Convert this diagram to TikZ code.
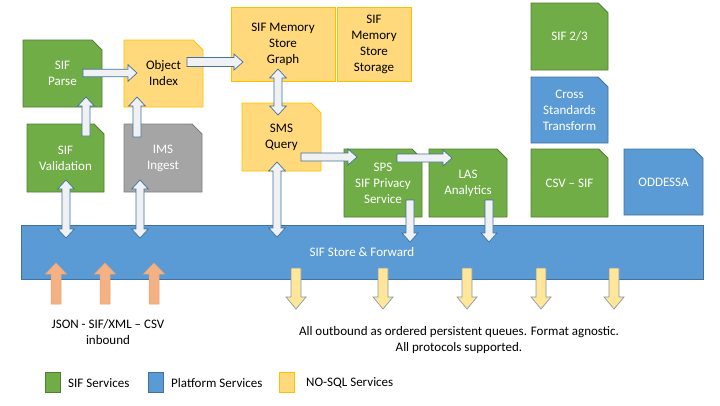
\documentclass[tikz,border=0pt]{standalone}
\usepackage{fontspec}
\setmainfont{Carlito}
\usetikzlibrary{shapes.misc,calc}
\definecolor{gfill}{HTML}{70AD47}
\definecolor{gline}{HTML}{507E32}
\definecolor{bfill}{HTML}{5B9BD5}
\definecolor{bline}{HTML}{41719C}
\definecolor{ofill}{HTML}{FFD97C}
\definecolor{oline}{HTML}{FFC000}
\definecolor{grfill}{HTML}{A5A5A5}
\definecolor{grline}{HTML}{7F7F7F}
\definecolor{wfill}{HTML}{F0F1F4}
\definecolor{upfill}{HTML}{F4B183}
\definecolor{upline}{HTML}{E3A478}
\definecolor{dnfill}{HTML}{FFE699}
\definecolor{dnline}{HTML}{8497B0}
\newcommand\blkarrow[6]{%
  \coordinate (tmpN) at ($(#3)!#6!(#2)$);
  \draw[#1] ($(#2)!#4!90:(#3)$) -- ($(tmpN)!#4!90:(#3)$) -- ($(tmpN)!#5!90:(#3)$) -- (#3)
    -- ($(tmpN)!#5!-90:(#3)$) -- ($(tmpN)!#4!-90:(#3)$) -- ($(#2)!#4!-90:(#3)$) -- cycle;}
\newcommand\dblarrow[6]{%
  \coordinate (tmpA) at ($(#2)!#6!(#3)$);
  \coordinate (tmpB) at ($(#3)!#6!(#2)$);
  \draw[#1] (#2) -- ($(tmpA)!#5!90:(#3)$) -- ($(tmpA)!#4!90:(#3)$) -- ($(tmpB)!#4!90:(#3)$)
    -- ($(tmpB)!#5!90:(#3)$) -- (#3) -- ($(tmpB)!#5!-90:(#3)$) -- ($(tmpB)!#4!-90:(#3)$)
    -- ($(tmpA)!#4!-90:(#3)$) -- ($(tmpA)!#5!-90:(#3)$) -- cycle;}
\tikzset{
  base/.style={font=\fontsize{13}{16}\selectfont, align=center, inner sep=0pt, line width=0.8pt},
  doc/.style={base, chamfered rectangle, chamfered rectangle corners=north east,
     chamfered rectangle sep=5pt},
  sifbox/.style={doc, fill=gfill, draw=gline, text=white},
  platbox/.style={doc, fill=bfill, draw=bline, text=white},
  nosqlbox/.style={doc, fill=ofill, draw=oline, text=black},
  graybox/.style={doc, fill=grfill, draw=grline, text=white},
  memrect/.style={base, rectangle, fill=ofill, draw=oline, text=black},
  legsq/.style={chamfered rectangle, chamfered rectangle corners=north east,
     chamfered rectangle sep=2.5pt, inner sep=0pt, minimum width=15pt, minimum height=20pt, line width=0.8pt},
  lbl/.style={font=\fontsize{13}{16}\selectfont, align=center, inner sep=0pt, text=black},
  warrow/.style={fill=wfill, draw=bline, line width=0.7pt},
  uparrow/.style={fill=upfill, draw=upline, line width=0.5pt},
  dnarrow/.style={fill=dnfill, draw=dnline, line width=0.7pt}
}
\begin{document}
\begin{tikzpicture}[x=1pt,y=-1pt]
\useasboundingbox (0,0) rectangle (720,405);
% boxes
\node[sifbox, minimum width=79pt, minimum height=67pt] (parse) at (62.5,73.5) {SIF\\Parse};
\node[nosqlbox, minimum width=79pt, minimum height=67pt] (objidx) at (163.5,73.5) {Object\\Index};
\node[sifbox, minimum width=77pt, minimum height=68pt] (valid) at (65.5,158) {SIF\\Validation};
\node[graybox, minimum width=78pt, minimum height=68pt] (ims) at (163,158) {IMS\\Ingest};
\node[memrect, minimum width=104pt, minimum height=74pt] (graph) at (283,44) {SIF Memory\\Store\\Graph};
\node[memrect, minimum width=74pt, minimum height=74pt] (storage) at (374,44) {SIF\\Memory\\Store\\Storage};
\node[nosqlbox, minimum width=79pt, minimum height=68pt] (sms) at (281.5,137) {SMS\\Query};
\node[sifbox, minimum width=78pt, minimum height=68pt] (sps) at (383,183) {SPS\\SIF Privacy\\Service};
\node[sifbox, minimum width=78pt, minimum height=68pt] (las) at (468,183) {LAS\\Analytics};
\node[sifbox, minimum width=77pt, minimum height=67pt] (sif23) at (569.5,36.5) {SIF 2/3};
\node[platbox, minimum width=77pt, minimum height=66pt] (cross) at (569.5,110) {Cross\\Standards\\Transform};
\node[sifbox, minimum width=77pt, minimum height=68pt] (csv) at (569.5,183) {CSV – SIF};
\node[platbox, minimum width=79pt, minimum height=66pt] (oddessa) at (663.5,182) {ODDESSA};
\node[base, rectangle, fill=bfill, draw=bline, text=white, minimum width=682pt, minimum height=54pt] (bar) at (362,252) {SIF Store \& Forward};
% white arrow end points
\coordinate (a1s) at (83,73);   \coordinate (a1e) at (137,73);
\coordinate (a2s) at (187,62);  \coordinate (a2e) at (243,62);
\coordinate (a3s) at (86,136);  \coordinate (a3e) at (86,97);
\coordinate (a4s) at (137,137); \coordinate (a4e) at (137,97);
\coordinate (a5s) at (278,69);  \coordinate (a5e) at (278,115);
\coordinate (a6s) at (301,157); \coordinate (a6e) at (357,157);
\coordinate (a7s) at (397,158); \coordinate (a7e) at (452,158);
\coordinate (a8s) at (277,162); \coordinate (a8e) at (277,237);
\coordinate (a9s) at (66,180);  \coordinate (a9e) at (66,238);
\coordinate (a10s) at (140,180); \coordinate (a10e) at (140,238);
\coordinate (a11s) at (410,200); \coordinate (a11e) at (410,242);
\coordinate (a12s) at (489,200); \coordinate (a12e) at (489,242);
\blkarrow{warrow}{a1s}{a1e}{3.8pt}{8.3pt}{9pt}
\blkarrow{warrow}{a2s}{a2e}{4.5pt}{8pt}{9pt}
\blkarrow{warrow}{a3s}{a3e}{4pt}{8.3pt}{9pt}
\blkarrow{warrow}{a4s}{a4e}{4pt}{8.3pt}{9pt}
\dblarrow{warrow}{a5s}{a5e}{4pt}{8.3pt}{9pt}
\blkarrow{warrow}{a6s}{a6e}{4pt}{8pt}{9pt}
\blkarrow{warrow}{a7s}{a7e}{4pt}{8pt}{9pt}
\dblarrow{warrow}{a8s}{a8e}{4pt}{8.3pt}{9pt}
\dblarrow{warrow}{a9s}{a9e}{4pt}{8.3pt}{9pt}
\dblarrow{warrow}{a10s}{a10e}{4pt}{8.3pt}{9pt}
\blkarrow{warrow}{a11s}{a11e}{4pt}{8pt}{9pt}
\blkarrow{warrow}{a12s}{a12e}{4pt}{8pt}{9pt}
% inbound arrows
\foreach \i/\x in {1/56,2/105,3/154}{
  \coordinate (u\i s) at (\x,304); \coordinate (u\i e) at (\x,263);
  \blkarrow{uparrow}{u\i s}{u\i e}{5pt}{10.5pt}{11pt}
}
% outbound arrows
\foreach \i/\x in {1/296,2/383,3/467,4/541,5/614}{
  \coordinate (d\i s) at (\x,268); \coordinate (d\i e) at (\x,309);
  \blkarrow{dnarrow}{d\i s}{d\i e}{5pt}{10pt}{12pt}
}
% labels
\node[lbl] (inlbl) at (108,332) {JSON - SIF/XML – CSV\\inbound};
\node[lbl] (outlbl) at (459,340) {All outbound as ordered persistent queues. Format agnostic.\\All protocols supported.};
% legend
\node[legsq, fill=gfill, draw=gline] (lg1) at (52.5,382) {};
\node[lbl, anchor=west] (lt1) at (68,383) {SIF Services};
\node[legsq, fill=bfill, draw=bline] (lg2) at (156,382) {};
\node[lbl, anchor=west] (lt2) at (171,383) {Platform Services};
\node[legsq, fill=ofill, draw=oline] (lg3) at (287,382) {};
\node[lbl, anchor=west] (lt3) at (306,383) {NO-SQL Services};
\end{tikzpicture}
\end{document}
